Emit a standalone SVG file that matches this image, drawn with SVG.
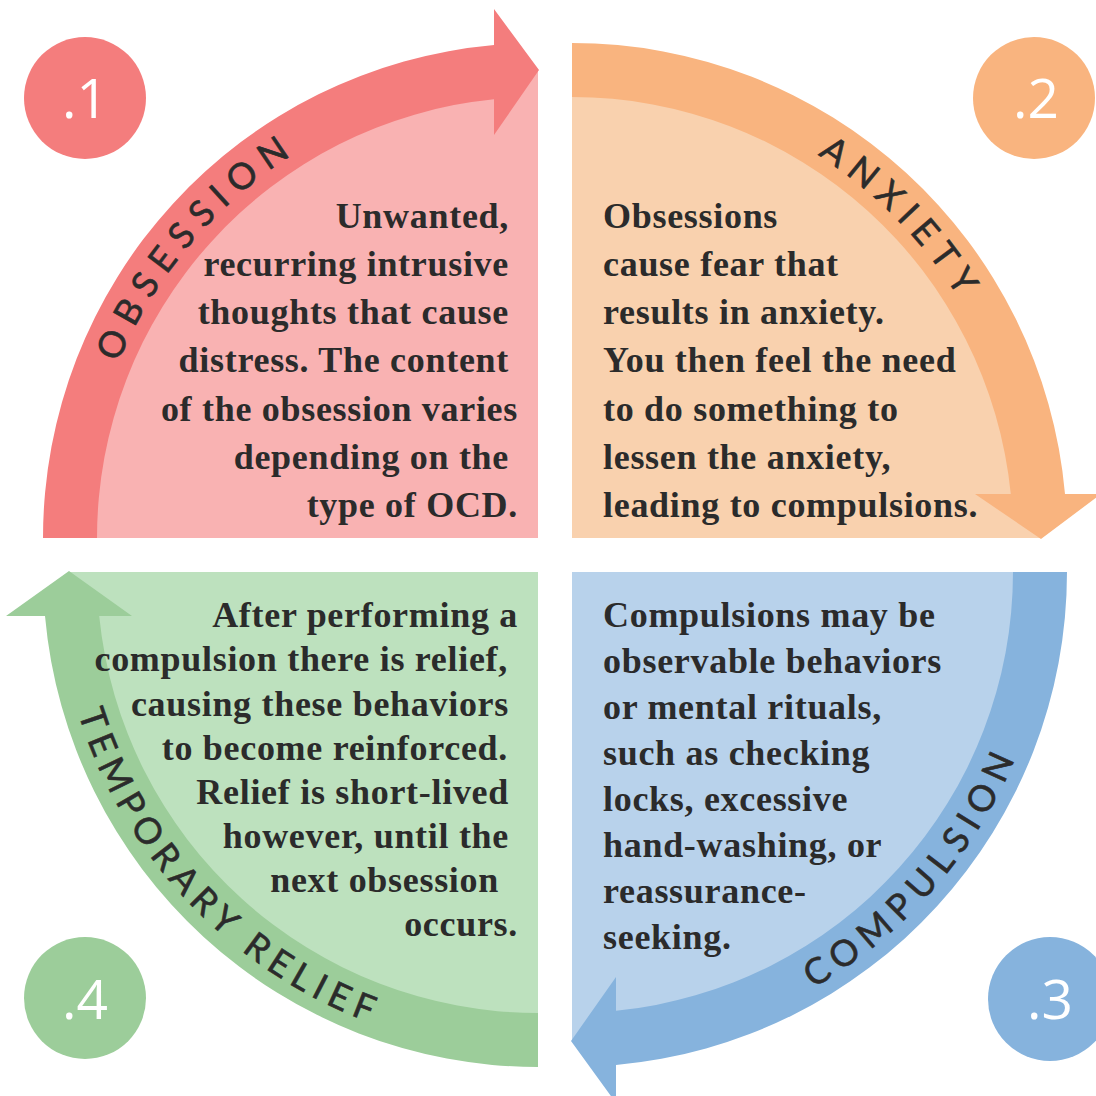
<svg xmlns="http://www.w3.org/2000/svg" width="1096" height="1096" viewBox="0 0 1096 1096">
<defs>
<style>
.body{font-family:"Liberation Serif","Times New Roman",serif;font-weight:bold;font-size:36px;letter-spacing:0.7px;fill:#2b2b2b}
.end{text-anchor:end}
.arcl{font-family:Lato,"Open Sans","DejaVu Sans",sans-serif;font-size:36px;fill:#2b2b2b;stroke:#2b2b2b;stroke-width:0.6px;text-anchor:middle}
.num{font-family:"Open Sans","Liberation Sans",sans-serif;font-size:55px;fill:#ffffff;text-anchor:middle}
.f1{fill:#F9B2B2}.b1{fill:#F47D7D}
.f2{fill:#F9D1AE}.b2{fill:#F9B47F}
.f3{fill:#B8D2EB}.b3{fill:#86B3DD}
.f4{fill:#BDE1BE}.b4{fill:#9CCD9A}
</style>
<path id="p1" d="M83,538 A455,455 0 0 1 538,83"/>
<path id="p2" d="M572,83 A455,455 0 0 1 1027,538"/>
<path id="p3" d="M572,1053 A481,481 0 0 0 1053,572"/>
<path id="p4" d="M57,572 A481,481 0 0 0 538,1053"/>
</defs>
<rect width="1096" height="1096" fill="#ffffff"/>

<g id="node-obsession">
<path class="f1" d="M538,538 L69,538 A469,469 0 0 1 538,69 Z"/>
<circle class="b1" cx="85" cy="98" r="61"/>
<text class="num" x="85" y="118">.1</text>
</g>
<g id="node-anxiety">
<path class="f2" d="M572,538 L572,69 A469,469 0 0 1 1041,538 Z"/>
<circle class="b2" cx="1034" cy="98" r="61"/>
<text class="num" x="1036" y="118">.2</text>
</g>
<g id="node-compulsion">
<path class="f3" d="M572,572 L1041,572 A469,469 0 0 1 572,1041 Z"/>
<circle class="b3" cx="1050" cy="999" r="62"/>
<text class="num" x="1050" y="1019">.3</text>
</g>
<g id="node-relief">
<path class="f4" d="M538,572 L538,1041 A469,469 0 0 1 69,572 Z"/>
<circle class="b4" cx="85" cy="998" r="61"/>
<text class="num" x="85" y="1019">.4</text>
</g>

<g id="connectors">
<path class="b1" d="M43,538 A495,495 0 0 1 494,44.96 L494,9 L539,70 L494,135 L494,99.2 A441,441 0 0 0 97,538 Z"/>
<path class="b2" d="M572,43 A495,495 0 0 1 1065,494 L1101,494 L1041,539 L975,494 L1010.8,494 A441,441 0 0 0 572,97 Z"/>
<path class="b3" d="M1067,572 A495,495 0 0 1 616,1065 L616,1103 L571,1041 L616,977 L616,1010.8 A441,441 0 0 0 1013,572 Z"/>
<path class="b4" d="M538,1067 A495,495 0 0 1 45,616 L6,616 L69,571 L132,616 L99.2,616 A441,441 0 0 0 538,1013 Z"/>
<text class="arcl" letter-spacing="9.5"><textPath href="#p1" startOffset="45%">OBSESSION</textPath></text>
<text class="arcl" letter-spacing="8.6"><textPath href="#p2" startOffset="51%">ANXIETY</textPath></text>
<text class="arcl" letter-spacing="8"><textPath href="#p3" startOffset="54.5%">COMPULSION</textPath></text>
<text class="arcl" letter-spacing="6.8"><textPath href="#p4" startOffset="48.5%">TEMPORARY RELIEF</textPath></text>
</g>

<g id="node-obsession-text" class="body end">
<text x="509" y="228">Unwanted,</text>
<text x="509" y="276">recurring intrusive</text>
<text x="509" y="324">thoughts that cause</text>
<text x="509" y="372">distress. The content</text>
<text x="518" y="421">of the obsession varies</text>
<text x="509" y="469">depending on the</text>
<text x="518" y="517">type of OCD.</text>
</g>
<g id="node-anxiety-text" class="body">
<text x="603" y="228">Obsessions</text>
<text x="603" y="276">cause fear that</text>
<text x="603" y="324">results in anxiety.</text>
<text x="603" y="372">You then feel the need</text>
<text x="603" y="421">to do something to</text>
<text x="603" y="469">lessen the anxiety,</text>
<text x="603" y="517">leading to compulsions.</text>
</g>
<g id="node-compulsion-text" class="body">
<text x="603" y="627">Compulsions may be</text>
<text x="603" y="673">observable behaviors</text>
<text x="603" y="719">or mental rituals,</text>
<text x="603" y="765">such as checking</text>
<text x="603" y="811">locks, excessive</text>
<text x="603" y="857">hand-washing, or</text>
<text x="603" y="903">reassurance-</text>
<text x="603" y="949">seeking.</text>
</g>
<g id="node-relief-text" class="body end">
<text x="518" y="627">After performing a</text>
<text x="508" y="671">compulsion there is relief,</text>
<text x="509" y="716">causing these behaviors</text>
<text x="508" y="760">to become reinforced.</text>
<text x="509" y="804">Relief is short-lived</text>
<text x="509" y="848">however, until the</text>
<text x="499" y="892">next obsession</text>
<text x="518" y="936">occurs.</text>
</g>
</svg>
